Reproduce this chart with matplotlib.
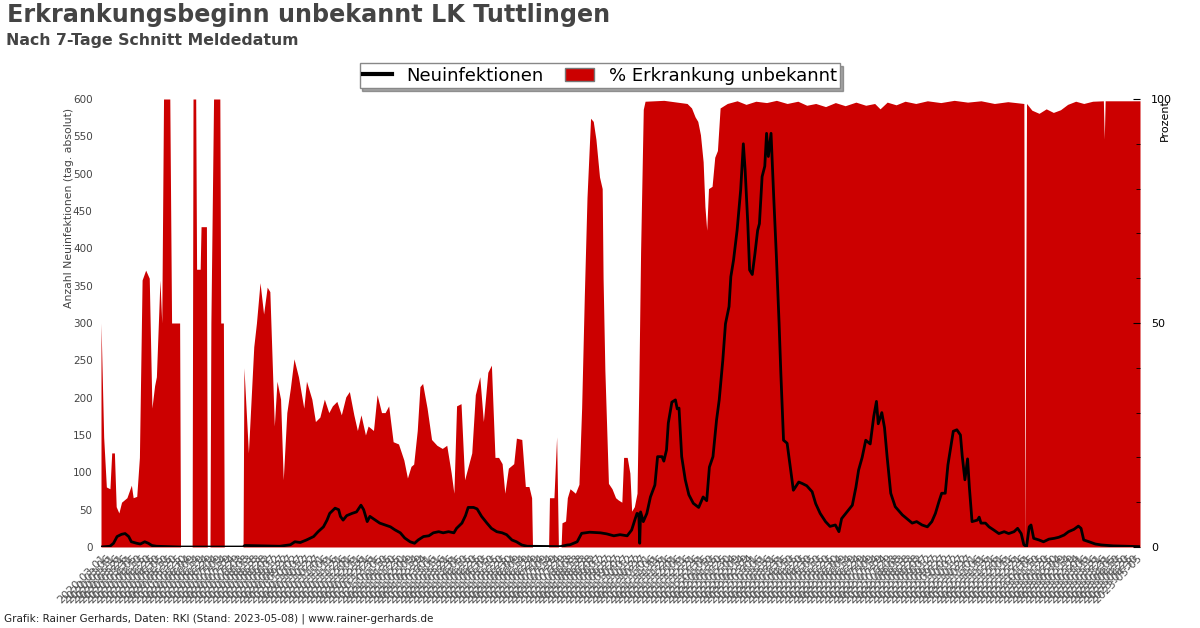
import matplotlib
matplotlib.use('Agg')
import matplotlib.pyplot as plt
from matplotlib.patches import Patch
from matplotlib.lines import Line2D
import numpy as np
import pandas as pd

# Zeitraum der Grafik
start = pd.Timestamp('2020-03-01')
end = pd.Timestamp('2023-05-08')

# % Erkrankungsbeginn unbekannt (rechte Achse) - Tage seit start, Wert
pct_day = [0, 3, 6, 10, 12, 15, 17, 20, 23, 29, 34, 36, 40, 43, 46, 50, 54, 57, 60, 62,
           66, 68, 70, 77, 79, 88, 89, 102, 103, 106, 107, 111, 112, 118, 119, 122, 123, 126,
           133, 134, 137, 138, 159, 160, 165, 171, 174, 178, 182, 186, 189, 194, 197, 201,
           204, 208, 212, 216, 221, 227, 230, 236, 240, 245, 250, 255, 259, 264, 269, 274,
           278, 283, 287, 291, 296, 299, 305, 309, 314, 318, 322, 327, 333, 339, 343, 347,
           350, 354, 357, 360, 365, 370, 376, 382, 387, 392, 395, 398, 403, 407, 411, 415,
           419, 424, 428, 433, 437, 441, 445, 449, 452, 456, 462, 465, 471, 475, 479, 482,
           483, 501, 502, 507, 510, 512, 515, 516, 520, 522, 525, 531, 535, 538, 541, 544,
           548, 551, 554, 558, 561, 562, 564, 568, 572, 576, 579, 583, 585, 589, 592, 594,
           597, 600, 602, 604, 607, 609, 630, 656, 661, 665, 668, 671, 674, 676, 678, 680,
           684, 687, 690, 693, 701, 712, 722, 733, 745, 756, 768, 780, 790, 800, 811, 822,
           833, 845, 856, 866, 872, 880, 890, 900, 912, 925, 940, 955, 970, 985, 1000, 1015,
           1033, 1034, 1036, 1042, 1050, 1058, 1066, 1074, 1082, 1091, 1100, 1110, 1122, 1123,
           1124, 1163]
pct_val = [50, 24.5, 13.4, 13, 21, 21, 9, 7.6, 10, 11, 13.8, 11, 11.3, 20, 59.6, 61.8, 60, 31, 36, 38,
           59.6, 50, 100, 100, 50, 50, 0, 0, 100, 100, 62, 62, 71.5, 71.5, 0, 0, 50, 100,
           100, 50, 50, 0, 0, 40, 21, 44.7, 50, 59, 52, 58, 57, 27, 37, 33,
           15, 30, 35.5, 42, 38, 31, 37, 33, 28, 29, 33, 30, 31.5, 32.5, 29.5, 33.5,
           34.7, 29.5, 26, 29.5, 25, 27, 26, 34, 30, 30, 31.5, 23.5, 23, 19.4, 15.4, 18,
           18.5, 26, 35.8, 36.5, 31, 24, 22.7, 22, 22.7, 16.5, 12, 31.5, 32, 15, 18, 21,
           34, 38, 28, 39, 40.6, 20, 20, 18.6, 12, 17.6, 18.6, 24.3, 24, 13.5, 13.5, 11,
           0, 0, 11, 11, 24.6, 0, 0, 5.4, 5.8, 11, 13, 12, 14, 31, 56, 78,
           95.7, 95, 91, 82.6, 80, 60, 39.5, 14.2, 13, 11, 10.5, 10, 20, 20, 16.5, 8,
           9, 12, 36, 66, 97.7, 99.5, 99.7, 99, 98, 96, 95, 92, 86, 76, 70.7, 80,
           80.5, 87, 88.5, 98, 99, 99.6, 98.8, 99.5, 99.2, 99.7, 99, 99.5, 98.6, 99, 98.3, 99.2,
           98.5, 99.3, 98.6, 99, 97.8, 99.3, 98.7, 99.5, 99, 99.6, 99.2, 99.7, 99.3, 99.6, 99, 99.4,
           99, 0, 99, 97.5, 96.8, 97.8, 97, 97.6, 98.8, 99.5, 99, 99.5, 99.6, 91,
           99.6, 99.6]

# Neuinfektionen, 7-Tage-Schnitt (linke Achse)
inf_day = [0, 10, 14, 18, 23, 27, 31, 34, 40, 44, 49, 53, 57, 62, 88, 159, 161, 200, 212, 217,
           223, 230, 238, 243, 249, 253, 256, 262, 266, 268, 271, 275, 281, 286, 291, 294,
           298, 301, 307, 312, 318, 324, 329, 335, 340, 346, 351, 355, 361, 367, 372, 378,
           383, 389, 395, 398, 404, 408, 411, 417, 421, 426, 432, 437, 443, 449, 454, 460,
           465, 471, 477, 514, 522, 525, 533, 538, 547, 559, 566, 574, 581, 589, 594, 598,
           600, 602, 603, 604, 607, 611, 615, 620, 623, 628, 630, 633, 635, 639, 643, 645,
           647, 650, 654, 658, 663, 669, 674, 678, 681, 685, 689, 692, 696, 699, 703, 705,
           708, 712, 716, 719, 721, 724, 726, 729, 732, 735, 737, 740, 743, 745, 747, 750,
           753, 756, 759, 761, 764, 768, 772, 775, 781, 785, 790, 796, 800, 805, 811, 816,
           822, 826, 829, 835, 841, 845, 848, 852, 856, 861, 865, 868, 870, 874, 877, 880,
           884, 889, 897, 902, 908, 913, 919, 925, 930, 934, 938, 941, 945, 948, 952, 954,
           958, 962, 964, 967, 970, 972, 975, 981, 983, 985, 990, 994, 999, 1005, 1011, 1016,
           1022, 1026, 1030, 1033, 1036, 1039, 1041, 1044, 1050, 1055, 1061, 1067, 1072, 1078,
           1083, 1089, 1094, 1097, 1100, 1106, 1113, 1120, 1133, 1163]
inf_val = [0, 1, 5, 14, 17, 18, 14, 7, 5, 4, 7, 5, 2, 1, 0, 0, 2, 1, 3, 7,
           6, 9.4, 14, 20.5, 27, 36, 45, 52, 50, 41, 36, 42, 45, 47, 56, 50,
           34, 41, 36, 32, 29.5, 27, 23, 19, 12, 7, 5, 9.4, 14, 15, 19, 20.5,
           19, 20.5, 19, 25, 32, 42, 53, 53, 51, 41, 32, 25, 20.5, 19, 16.5, 9.4,
           7, 2.7, 1, 0.5, 2.7, 3, 7, 18.3, 19.8, 19, 17.6, 15, 16.5, 15, 22.8, 38,
           45, 44, 5, 47, 34, 45, 67, 83, 121, 121, 115, 130, 166, 194, 197, 185,
           186, 121, 90, 70, 58.5, 53, 67, 62, 107, 121, 170, 197, 250, 299, 322, 362,
           384, 424, 478, 540, 505, 433, 371, 365, 393, 424, 433, 496, 510, 554, 523, 554,
           469, 389, 300, 232, 143, 139, 103, 76, 87, 85, 82, 74, 58, 45, 34, 27.6,
           29.5, 20.5, 38, 47, 56, 80, 103, 120, 143, 138, 175, 195, 165, 180, 160, 120,
           72, 54, 43, 38, 32, 34, 29.5, 27, 34, 45, 61, 72, 72, 110, 140, 155,
           157, 150, 122, 90, 118, 80, 34, 36, 40, 32, 32, 27, 23, 18, 20.5, 18,
           20.5, 25, 18, 3, 0.5, 27, 29.5, 11.6, 9.4, 7, 10.5, 11.6, 13, 16,
           20.5, 23.6, 28, 25, 9.4, 7, 4, 2.7, 1.5, 0.5]

tick_dates = pd.date_range(start, end, freq='5D')
tick_labels = [d.strftime('%Y-%m-%d') for d in tick_dates]

pct_dates = start + pd.to_timedelta(pct_day, unit='D')
inf_dates = start + pd.to_timedelta(inf_day, unit='D')

red = '#cc0000'
txt = '#444444'

fig = plt.figure(figsize=(12, 6.28), dpi=100)
ax = fig.add_axes([101/1200, 1-547/628, 1039/1200, 448/628])
ax2 = ax.twinx()
ax.set_zorder(ax2.get_zorder() + 1)
ax.patch.set_visible(False)
ax2.set_facecolor('#cccccc')

ax2.fill_between(pct_dates, pct_val, 0, color=red, lw=0)
ax.plot(inf_dates, inf_val, color='black', lw=2)

ax.set_xlim(start, end)
ax.set_ylim(0, 600)
ax2.set_ylim(0, 100)

ax.set_yticks(np.arange(0, 601, 50))
ax.tick_params(axis='y', length=0, labelsize=7.5, labelcolor=txt, pad=6)
ax.set_xticks(tick_dates)
ax.set_xticklabels(tick_labels, rotation=45, ha='right', rotation_mode='anchor',
                   fontsize=8, color='#555555')
ax.tick_params(axis='x', length=0, pad=4)

ax2.set_yticks([0, 50, 100])
ax2.set_yticks(np.arange(0, 101, 10), minor=True)
ax2.tick_params(axis='y', which='major', direction='in', length=5, labelsize=8, pad=8)
ax2.tick_params(axis='y', which='minor', direction='in', length=3)

for a in (ax, ax2):
    for s in a.spines.values():
        s.set_visible(False)

ax.set_ylabel('Anzahl Neuinfektionen (tag. absolut)', loc='top', fontsize=7.8, color=txt)
ax.yaxis.set_label_coords(-0.026, 0.98)
ax2.set_ylabel('Prozent', loc='top', fontsize=8)
ax2.yaxis.set_label_coords(1.019, 1.0)

handles = [Line2D([], [], color='black', lw=3),
           Patch(facecolor=red, edgecolor='#777777')]
fig.legend(handles, ['Neuinfektionen', '% Erkrankung unbekannt'], loc='upper center',
           bbox_to_anchor=(0.5, 1 - 63/628), ncol=2, fontsize=13, frameon=True,
           fancybox=False, shadow=True, edgecolor='#888888', borderpad=0.2,
           borderaxespad=0, handlelength=1.6, columnspacing=1.2, handletextpad=0.8)

fig.text(0.006, 0.995, 'Erkrankungsbeginn unbekannt LK Tuttlingen', fontsize=17.2,
         fontweight='bold', color=txt, va='top')
fig.text(0.005, 0.947, 'Nach 7-Tage Schnitt Meldedatum', fontsize=11.3,
         fontweight='bold', color=txt, va='top')
fig.text(0.003, 0.006, 'Grafik: Rainer Gerhards, Daten: RKI (Stand: 2023-05-08) | www.rainer-gerhards.de',
         fontsize=7.5, color='#222222', va='bottom')

fig.savefig('out.png', dpi=100)
